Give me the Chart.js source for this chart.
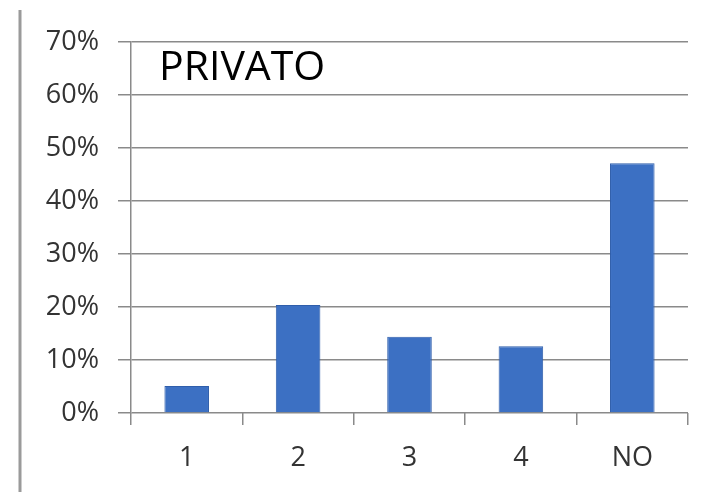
<!DOCTYPE html>
<html>
<head>
<meta charset="utf-8">
<script src="https://cdn.jsdelivr.net/npm/chart.js@4/dist/chart.umd.min.js"></script>
<style>
  html, body { margin: 0; padding: 0; background: #fff; }
  #wrap { width: 724px; height: 492px; }
</style>
</head>
<body>
<div id="wrap"><canvas id="chart" width="724" height="492"></canvas></div>
<script>
// Data
const categories = ["1", "2", "3", "4", "NO"];
const values = [5.1, 20.4, 14.4, 12.6, 47.1];
const yMax = 70;
const yStep = 10;
const title = "PRIVATO";

// Left frame line + title inside the plot
const decor = {
    id: "decor",
    beforeDraw(chart) {
        const c = chart.ctx;
        c.save();
        c.strokeStyle = "#9a9a9a";
        c.lineWidth = 3;
        c.beginPath();
        c.moveTo(20, 10);
        c.lineTo(20, 492);
        c.stroke();
        c.restore();
    },
    afterDraw(chart) {
        const c = chart.ctx;
        const a = chart.chartArea;
        c.save();
        c.fillStyle = "#000";
        c.font = "41px 'Open Sans'";
        c.textBaseline = "alphabetic";
        c.fillText(title, a.left + 28, a.top + 38);
        c.restore();
    }
};

const ctx = document.getElementById("chart").getContext("2d");

const chart = new Chart(ctx, {
    type: "bar",
    data: {
        labels: categories,
        datasets: [{
            data: values,
            backgroundColor: "#3c70c3",
            borderColor: "#2f5eab",
            borderWidth: 1,
            barPercentage: 0.8,
            categoryPercentage: 0.5
        }]
    },
    options: {
        responsive: false,
        animation: false,
        layout: {
            padding: { top: 42, right: 36, left: 0, bottom: 0 }
        },
        plugins: {
            legend: { display: false },
            tooltip: { enabled: false }
        },
        scales: {
            x: {
                grid: {
                    drawOnChartArea: false,
                    drawTicks: true,
                    tickLength: 12,
                    color: "#8a8a8a",
                    lineWidth: 1.5
                },
                border: { display: false },
                ticks: {
                    color: "#333",
                    font: { family: "'Open Sans'", size: 27 },
                    padding: 17
                },
                afterFit(s) { s.height = 79; }
            },
            y: {
                min: 0,
                max: yMax,
                grid: {
                    color: "#8a8a8a",
                    lineWidth: 1.5,
                    tickLength: 13
                },
                border: { display: true, color: "#8a8a8a", width: 1.5 },
                ticks: {
                    stepSize: yStep,
                    color: "#333",
                    font: { family: "'Open Sans'", size: 27 },
                    padding: 19,
                    callback: v => v + "%"
                },
                afterFit(s) { s.width = 131; }
            }
        }
    },
    plugins: [decor]
});
</script>
</body>
</html>
